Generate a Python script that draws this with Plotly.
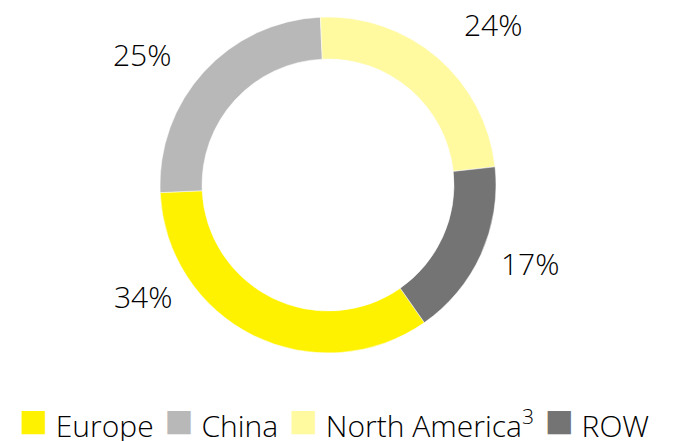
import plotly.graph_objects as go

# Data
regions = ["Europe", "China", "North America", "ROW"]
footnotes = ["", "", "3", ""]
shares = [34, 25, 24, 17]
colors = ["#FFF200", "#B8B8B8", "#FFF9A0", "#747474"]

# label placement (paper coords) for each slice's percentage
label_x = [-0.051, -0.054, 0.991, 1.101]
label_y = [0.167, 0.889, 0.979, 0.265]

FONT = "'Open Sans', 'DejaVu Sans', sans-serif"

fig = go.Figure(
    go.Pie(
        labels=regions,
        values=shares,
        hole=0.75,
        sort=False,
        direction="clockwise",
        rotation=145,
        marker=dict(colors=colors, line=dict(color="white", width=0.5)),
        textinfo="none",
        hoverinfo="label+percent",
        showlegend=False,
    )
)

annotations = []
for v, x, y in zip(shares, label_x, label_y):
    annotations.append(
        dict(
            text=f"{v}%",
            x=x,
            y=y,
            xref="paper",
            yref="paper",
            showarrow=False,
            xanchor="center",
            yanchor="middle",
            font=dict(family=FONT, size=30, color="#000000", weight=300),
        )
    )

small_gap = "<span style='font-size:12px'>\u00a0</span>"
legend_parts = []
for lab, fn, col in zip(regions, footnotes, colors):
    sq = f"<span style='color:{col};font-size:48px;font-family:DejaVu Sans'>■</span>"
    sup = f"<sup>{fn}</sup>" if fn else ""
    legend_parts.append(f"{sq}\u00a0{lab}{sup}")
legend_text = ("\u00a0" + small_gap).join(legend_parts)

annotations.append(
    dict(
        text=legend_text,
        x=0.518,
        y=-0.2,
        xref="paper",
        yref="paper",
        showarrow=False,
        xanchor="center",
        yanchor="middle",
        font=dict(family=FONT, size=30, color="#000000", weight=300),
    )
)

fig.update_layout(
    width=674,
    height=441,
    margin=dict(l=160, r=178, t=17, b=88),
    paper_bgcolor="white",
    plot_bgcolor="white",
    annotations=annotations,
)

fig.write_html(
    "out.html",
    config={"displayModeBar": False},
    post_script="document.body.style.margin='0';document.body.style.overflow='hidden';",
)
